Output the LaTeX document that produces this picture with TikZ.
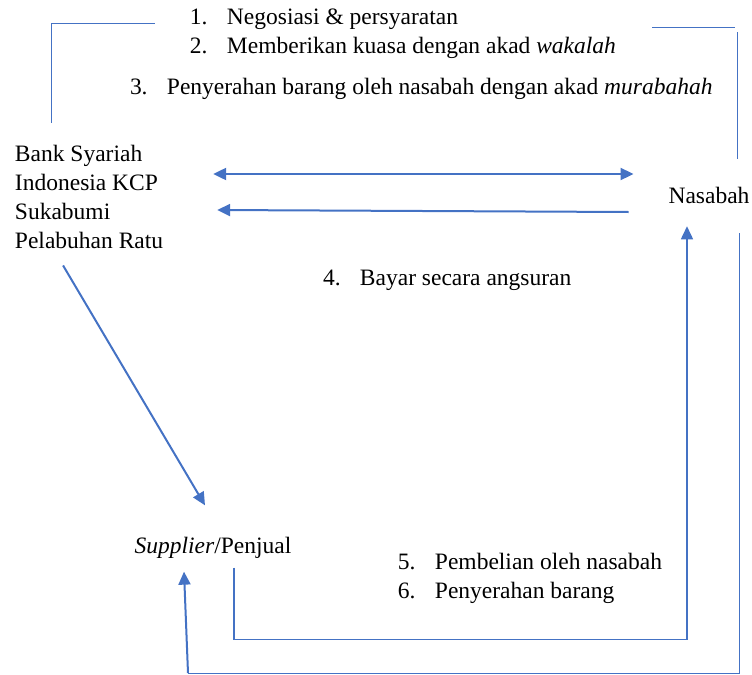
\documentclass[tikz,border=0pt]{standalone}
\usepackage{fontspec}
\setmainfont{Liberation Serif}
\usetikzlibrary{arrows.meta, positioning, calc}
\definecolor{officeblue}{HTML}{4472C4}
\tikzset{
  >={Triangle[length=6.5pt,width=6pt]},
  txt/.style={
    inner sep=0pt, outer sep=0pt, align=left,
    font=\fontsize{11.75}{14.4}\selectfont
  },
  arrow/.style={->, line width=1pt, draw=officeblue},
  route/.style={line width=0.8pt, draw=officeblue},
  wire/.style={line width=0.5pt, draw=officeblue}
}
\newcommand{\numitem}[2]{\makebox[18.5pt][l]{#1}#2}

\begin{document}
\begin{tikzpicture}[x=0.5pt, y=-0.5pt]
  \useasboundingbox (0,0) rectangle (752,675);

  % pihak-pihak
  \node[txt, anchor=west] (bank) at (15,197)
    {Bank Syariah\\Indonesia KCP\\Sukabumi\\Pelabuhan Ratu};
  \node[txt] (nasabah) at (709,195) {Nasabah};
  \node[txt] (supplier) at (213,548) {\textit{Supplier}/Penjual};

  % langkah-langkah
  \node[txt, anchor=west] (akad) at (190,34)
    {\numitem{1.}{Negosiasi \& persyaratan}\\
     \numitem{2.}{Memberikan kuasa dengan akad \textit{wakalah}}};
  \node[txt, anchor=west] (serah) at (130,89)
    {\numitem{3.}{Penyerahan barang oleh nasabah dengan akad \textit{murabahah}}};
  \node[txt, anchor=west] (bayar) at (323,280)
    {\numitem{4.}{Bayar secara angsuran}};
  \node[txt, anchor=west] (beli) at (398,578)
    {\numitem{5.}{Pembelian oleh nasabah}\\
     \numitem{6.}{Penyerahan barang}};

  \coordinate (atasL) at (155,23);
  \coordinate (atasR) at (652,27);
  \coordinate (sudutR) at (735,27);
  \coordinate (pojok) at (188,673);

  % garis atas
  \draw[wire] ($(bank.north)+(-38,-23)$) |- (atasL);
  \draw[wire] (atasR) -- (sudutR);
  \draw[wire] ($(nasabah.north)+(28,-28)$) -- ($(sudutR)+(2,5)$);

  % bank <-> nasabah
  \draw[arrow, <->] ($(bank.east)+(50,-23)$) -- ($(nasabah.west)+(-35,-21)$);
  \draw[arrow] ($(nasabah.west)+(-40,17)$) -- ($(bank.east)+(54,13)$);

  % bank -> supplier
  \draw[arrow] ($(bank.south)+(-26,17)$) -- ($(supplier.north)+(-8,-32)$);

  % supplier -> nasabah
  \draw[route, ->] ($(supplier.south)+(21,9)$) -- ++(0,72)
    -| ($(nasabah.south)+(-22,23)$);

  % nasabah -> supplier
  \draw[wire] ($(nasabah.south)+(30,30)$) |- (pojok);
  \draw[arrow] (pojok) -- ($(supplier.south)+(-29,13)$);
\end{tikzpicture}
\end{document}
